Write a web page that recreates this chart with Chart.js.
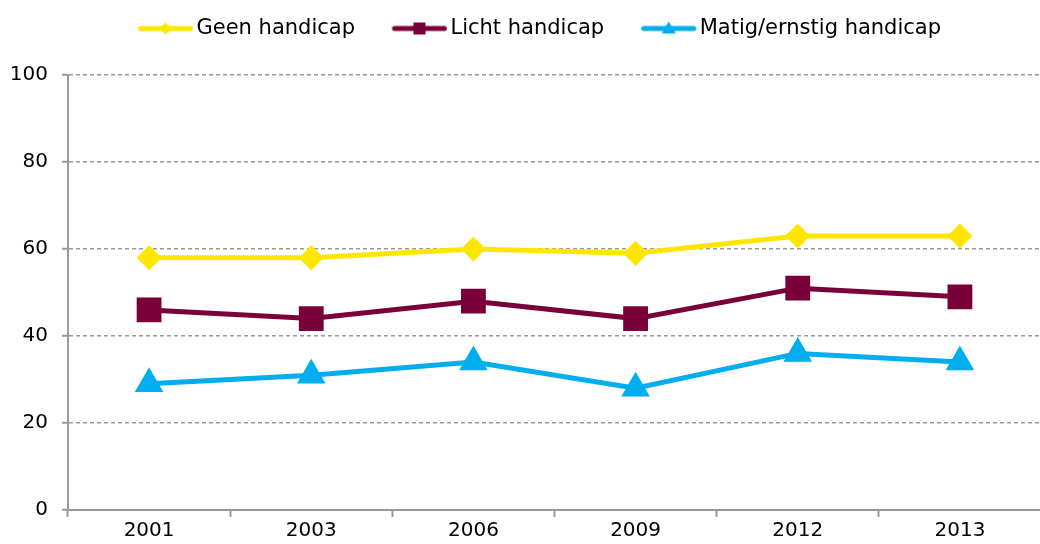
<!DOCTYPE html>
<html>
<head>
<meta charset="utf-8">
<script src="https://cdn.jsdelivr.net/npm/chart.js@4.4.0/dist/chart.umd.min.js"></script>
<style>
  html, body { margin: 0; padding: 0; overflow: hidden; background: #fff; }
</style>
</head>
<body>
<canvas id="grafiek" width="1060" height="544"></canvas>
<script>
// gegevens
const jaren = ['2001', '2003', '2006', '2009', '2012', '2013'];
const geenHandicap = [58, 58, 60, 59, 63, 63];
const lichtHandicap = [46, 44, 48, 44, 51, 49];
const matigErnstig = [29, 31, 34, 28, 36, 34];
const yTicks = [0, 20, 40, 60, 80, 100];

const GEEL = '#FFE600';
const BORDEAUX = '#7A0039';
const BLAUW = '#00AEEF';

// legenda-icoon: lijn met marker in het midden
function maakIcoon(kleur, vorm) {
  const c = document.createElement('canvas');
  c.width = 90; c.height = 20;
  const g = c.getContext('2d');
  g.strokeStyle = kleur;
  g.lineWidth = 5;
  g.lineCap = 'round';
  g.beginPath();
  g.moveTo(37, 10);
  g.lineTo(87, 10);
  g.stroke();
  g.fillStyle = kleur;
  const cx = 62, cy = 10;
  g.beginPath();
  if (vorm === 'ruit') {
    g.moveTo(cx, cy - 6); g.lineTo(cx + 6, cy); g.lineTo(cx, cy + 6); g.lineTo(cx - 6, cy);
  } else if (vorm === 'vierkant') {
    g.rect(cx - 6, cy - 6, 12, 12);
  } else {
    g.moveTo(cx, cy - 7); g.lineTo(cx + 7, cy + 5); g.lineTo(cx - 7, cy + 5);
  }
  g.closePath();
  g.fill();
  return c;
}
const iconen = [maakIcoon(GEEL, 'ruit'), maakIcoon(BORDEAUX, 'vierkant'), maakIcoon(BLAUW, 'driehoek')];

// legenda wat hoger maken (ruimte boven de grafiek)
const legendaMaat = {
  id: 'legendaMaat',
  afterInit(chart) {
    const origFit = chart.legend.fit;
    chart.legend.fit = function () {
      origFit.call(this);
      this.height += 26;
    };
  }
};

Chart.defaults.font.family = '"DejaVu Sans", sans-serif';
Chart.defaults.font.size = 20;
Chart.defaults.color = '#000';

new Chart(document.getElementById('grafiek'), {
  type: 'line',
  data: {
    labels: jaren,
    datasets: [
      {
        label: 'Geen handicap',
        data: geenHandicap,
        borderColor: GEEL,
        backgroundColor: GEEL,
        borderWidth: 5,
        pointStyle: 'rectRot',
        pointRadius: 9,
        pointHoverRadius: 9
      },
      {
        label: 'Licht handicap',
        data: lichtHandicap,
        borderColor: BORDEAUX,
        backgroundColor: BORDEAUX,
        borderWidth: 5,
        pointStyle: 'rect',
        pointRadius: 14,
        pointHoverRadius: 14
      },
      {
        label: 'Matig/ernstig handicap',
        data: matigErnstig,
        borderColor: BLAUW,
        backgroundColor: BLAUW,
        borderWidth: 5,
        pointStyle: 'triangle',
        pointRadius: 11.5,
        pointHoverRadius: 11.5
      }
    ]
  },
  plugins: [legendaMaat],
  options: {
    responsive: false,
    animation: false,
    layout: { padding: { top: 8, left: 0, right: 8, bottom: 0 } },
    plugins: {
      tooltip: { enabled: false },
      legend: {
        position: 'top',
        labels: {
          usePointStyle: true,
          pointStyleWidth: 75,
          padding: 10,
          font: { size: 21 },
          generateLabels(chart) {
            const items = Chart.defaults.plugins.legend.labels.generateLabels(chart);
            items.forEach((it, i) => { it.pointStyle = iconen[i]; });
            return items;
          }
        }
      }
    },
    scales: {
      x: {
        offset: true,
        afterFit(axis) { axis.height = 34; },
        grid: {
          offset: true,
          drawOnChartArea: false,
          drawTicks: true,
          tickLength: 7,
          tickWidth: 2,
          tickColor: '#9a9a9a'
        },
        border: { color: '#9a9a9a', width: 2 },
        ticks: { padding: 2, font: { size: 20 } }
      },
      y: {
        min: 0,
        max: 100,
        afterFit(axis) { axis.width = 68; },
        afterBuildTicks(axis) { axis.ticks = yTicks.map(v => ({ value: v })); },
        grid: {
          color: '#999',
          lineWidth: 1.5,
          tickLength: 6,
          tickWidth: 2,
          tickColor: '#9a9a9a',
          tickBorderDash: []
        },
        border: { color: '#9a9a9a', width: 2, dash: [4, 3] },
        ticks: { padding: 14, font: { size: 20 } }
      }
    }
  }
});
</script>
</body>
</html>
